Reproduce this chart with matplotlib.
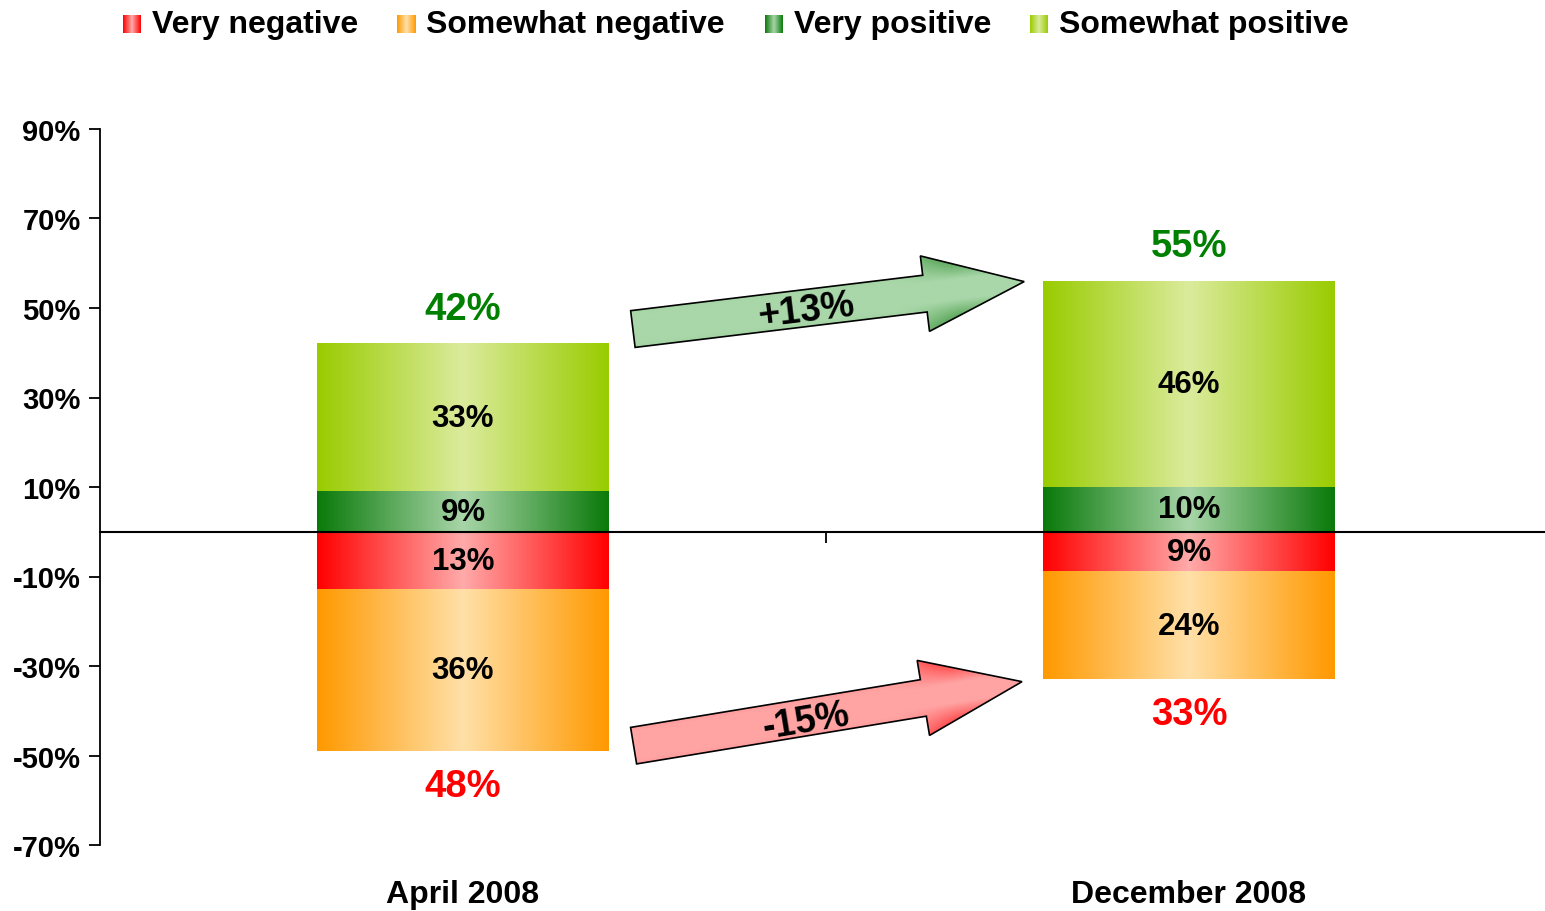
import numpy as np
import matplotlib.pyplot as plt
from matplotlib.colors import LinearSegmentedColormap
from matplotlib.patches import Polygon
from matplotlib.transforms import IdentityTransform

plt.rcParams['font.family'] = ['Liberation Sans', 'DejaVu Sans']
plt.rcParams['font.weight'] = 'bold'

# Datos
categories = ['April 2008', 'December 2008']
very_neg = [13, 9]
some_neg = [36, 24]
very_pos = [9, 10]
some_pos = [33, 46]
pos_totals = [42, 55]
neg_totals = [48, 33]
changes = ['+13%', '-15%']
yticks = [-70, -50, -30, -10, 10, 30, 50, 70, 90]

legend_labels = ['Very negative', 'Somewhat negative', 'Very positive', 'Somewhat positive']

# colores (borde oscuro, centro claro)
colors = {
    'Very negative': ('#ff0000', '#ffaaaa'),
    'Somewhat negative': ('#ff9900', '#ffe0a8'),
    'Very positive': ('#0a7a0a', '#a8d5a8'),
    'Somewhat positive': ('#99cc00', '#dbeb9c'),
}

W, H = 1545, 912
fig = plt.figure(figsize=(W / 100, H / 100), dpi=100)
ax = fig.add_axes([100 / W, 1 - 846 / H, 1452 / W, 716 / H])
ax.set_xlim(-0.5, 1.5)
ax.set_ylim(-70, 90)

bar_w = 0.402
grad = np.linspace(0, 1, 256).reshape(1, -1)


def cmap_for(name):
    dark, light = colors[name]
    return LinearSegmentedColormap.from_list(name, [dark, light, dark])


def gradient_bar(x, y0, y1, name):
    ax.imshow(grad, extent=[x - bar_w / 2, x + bar_w / 2, min(y0, y1), max(y0, y1)],
              cmap=cmap_for(name), aspect='auto', interpolation='bilinear', zorder=1)


for i in range(len(categories)):
    vn, sn, vp, sp = very_neg[i], some_neg[i], very_pos[i], some_pos[i]
    gradient_bar(i, 0, vp, 'Very positive')
    gradient_bar(i, vp, vp + sp, 'Somewhat positive')
    gradient_bar(i, 0, -vn, 'Very negative')
    gradient_bar(i, -vn, -vn - sn, 'Somewhat negative')

    ax.text(i, vp / 2, f'{vp}%', ha='center', va='center', fontsize=22.5, zorder=3)
    ax.text(i, vp + sp / 2, f'{sp}%', ha='center', va='center', fontsize=22.5, zorder=3)
    ax.text(i, -vn / 2, f'{vn}%', ha='center', va='center', fontsize=22.5, zorder=3)
    ax.text(i, -vn - sn / 2, f'{sn}%', ha='center', va='center', fontsize=22.5, zorder=3)

    ax.text(i, vp + sp + 7.8, f'{pos_totals[i]}%', ha='center', va='center',
            fontsize=27.5, color='#008000')
    ax.text(i, -vn - sn - 7.8, f'{neg_totals[i]}%', ha='center', va='center',
            fontsize=27.5, color='#ff0000')
    ax.text(i, -0.068, categories[i], transform=ax.get_xaxis_transform(),
            ha='center', va='center', fontsize=23)


def draw_arrow(start, end, light, dark, label, label_pos):
    p0 = ax.transData.transform(start)
    p1 = ax.transData.transform(end)
    d = p1 - p0
    u = d / np.hypot(*d)
    n = np.array([-u[1], u[0]])
    hs, hw, hl = 18.5, 38, 100
    base = p1 - u * hl
    pts = [p0 + n * hs, base + n * hs, base + n * hw, p1,
           base - n * hw, base - n * hs, p0 - n * hs]
    poly = Polygon(pts, closed=True, transform=IdentityTransform(),
                   facecolor='none', edgecolor='black', lw=1.2, zorder=6)
    ax.add_patch(poly)

    pts = np.array(pts)
    x0, y0 = pts.min(axis=0) - 2
    x1, y1 = pts.max(axis=0) + 2
    gx, gy = np.meshgrid(np.linspace(x0, x1, 400), np.linspace(y0, y1, 150))
    along = (gx - p0[0]) * u[0] + (gy - p0[1]) * u[1]
    perp = np.abs((gx - p0[0]) * n[0] + (gy - p0[1]) * n[1])
    L = np.hypot(*d)
    val = np.clip((perp - 10) / (hw - 10), 0, 1) * np.clip((along - (L - hl - 30)) / 60, 0, 1)
    val = np.maximum(val, np.clip((perp - 14) / 20, 0, 1) * 0.25)
    cm = LinearSegmentedColormap.from_list('arr', [light, dark])
    inv = ax.transData.inverted()
    (dx0, dy0), (dx1, dy1) = inv.transform([[x0, y0], [x1, y1]])
    im = ax.imshow(val, extent=[dx0, dx1, dy0, dy1], origin='lower', cmap=cm,
                   vmin=0, vmax=1, aspect='auto', interpolation='bilinear', zorder=5)
    im.set_clip_path(poly)

    ang = np.degrees(np.arctan2(d[1], d[0]))
    ax.text(*label_pos, label, rotation=ang, rotation_mode='anchor', ha='center', va='center',
            fontsize=27, zorder=7)


draw_arrow((0.234, 45.3), (0.773, 55.9), '#a9d7a9', '#2e8b2e', changes[0], (0.473, 49.6))
draw_arrow((0.235, -47.8), (0.770, -33.5), '#ffa3a3', '#ff1a1a', changes[1], (0.472, -42.3))

ax.set_xlim(-0.5, 1.5)
ax.set_ylim(-70, 90)

# ejes estilo Excel
ax.spines['top'].set_visible(False)
ax.spines['right'].set_visible(False)
ax.spines['bottom'].set_position(('data', 0))
ax.spines['bottom'].set_linewidth(1.5)
ax.spines['bottom'].set_zorder(4)
ax.spines['left'].set_linewidth(1.3)
ax.set_xticks([0.5])
ax.set_xticklabels([''])
ax.set_yticks(yticks)
ax.set_yticklabels([f'{v}%' for v in yticks])
ax.tick_params(axis='y', length=8, width=1.3, direction='out', labelsize=21, pad=6)
ax.tick_params(axis='x', length=8, width=1.3, direction='out')

# leyenda manual
sq_x = [123, 397, 765, 1030]
for lab, sx in zip(legend_labels, sq_x):
    lax = fig.add_axes([sx / W, 1 - 34 / H, 18 / W, 18 / H])
    lax.imshow(grad, cmap=cmap_for(lab), aspect='auto', interpolation='bilinear')
    lax.axis('off')
    fig.text((sx + 29) / W, 1 - 25 / H, lab, ha='left', va='center', fontsize=23)

fig.savefig('out.png', dpi=100)
